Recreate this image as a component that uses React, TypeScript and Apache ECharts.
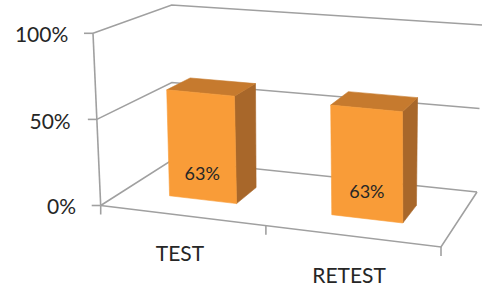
import React, { useEffect, useRef } from "react";
import * as echarts from "echarts";

// ---- data ----
const categories = ["TEST", "RETEST"];
const values = [0.63, 0.63];
const yTicks = [0, 0.5, 1];

// ---- layout / style ----
const FONT = "Lato, 'Open Sans', sans-serif";
const GRID_COLOR = "#a0a0a0";
const TEXT_COLOR = "#262626";
const FRONT = "#f99c38";
const TOP = "#c67a2e";
const SIDE = "#a8672a";

// projected corners of the 3-D box: f/b = front/back, b/t = bottom/top, l/r = left/right
const C = {
  fbl: [100.7, 205.5],
  fbr: [441, 247],
  bbl: [172, 160],
  bbr: [477, 192],
  ftl: [93, 33.3],
  ftr: [439, 63],
  btl: [171.7, 5],
  btr: [482, 25],
};
const U_PERSPECTIVE = 1.06;
const BAR_HALF = 0.21; // half bar width as fraction of the category band
const BAR_FRONT = 0.33;
const BAR_BACK = 0.66;
const LABEL_V = 0.16; // inside-base label height (axis units)

const pct = (v: number) => Math.round(v * 100) + "%";

function lerp(a: number[], b: number[], t: number) {
  return [a[0] + (b[0] - a[0]) * t, a[1] + (b[1] - a[1]) * t];
}
function project(u0: number, v: number, w: number) {
  const u = u0 / (u0 + U_PERSPECTIVE * (1 - u0));
  const fb = lerp(C.fbl, C.fbr, u);
  const bb = lerp(C.bbl, C.bbr, u);
  const ft = lerp(C.ftl, C.ftr, u);
  const bt = lerp(C.btl, C.btr, u);
  const b = lerp(fb, bb, w);
  const t = lerp(ft, bt, w);
  return lerp(b, t, v);
}

export default function App() {
  const ref = useRef<HTMLDivElement>(null);
  useEffect(() => {
    if (!ref.current) return;
    const chart = echarts.init(ref.current, null, { renderer: "svg" });
    const toUV = (cs: any, p: number[]) => [
      (p[0] - cs.x) / cs.width,
      (cs.y + cs.height - p[1]) / cs.height,
    ];
    const yPad: Record<string, number[]> = { y0: [0, 0, 0, 0], y1: [3, 5.3, 0, 0], y2: [1, 7.7, 0, 0] };
    const yRich: any = {};
    Object.keys(yPad).forEach((k) => {
      yRich[k] = { padding: yPad[k], fontSize: 21, fontFamily: FONT, color: TEXT_COLOR };
    });
    const xRich: any = {
      x0: { padding: [1, 11.6, 0, 0], fontSize: 21, fontFamily: FONT, color: TEXT_COLOR },
      x1: { padding: [23.5, 13.8, 0, 0], fontSize: 21, fontFamily: FONT, color: TEXT_COLOR },
    };

    chart.setOption({
      animation: false,
      backgroundColor: "#ffffff",
      grid: { left: 100.7, top: 33.3, width: 340.3, height: 172.2 },
      xAxis: {
        type: "category",
        data: categories,
        axisLine: { show: false },
        axisTick: { show: false },
        splitLine: { show: false },
        axisLabel: {
          interval: 0,
          margin: 35,
          formatter: (v: string, i: number) => `{x${i}|${v}}`,
          rich: xRich,
        },
      },
      yAxis: {
        type: "value",
        min: 0,
        max: 1,
        interval: 0.5,
        axisLine: { show: false },
        axisTick: { show: false },
        splitLine: { show: false },
        axisLabel: {
          margin: 24.7,
          formatter: (v: number) => `{y${yTicks.indexOf(v)}|${pct(v)}}`,
          rich: yRich,
        },
      },
      series: [
        {
          type: "custom",
          silent: true,
          z: 1,
          data: [[0, 0]],
          renderItem: (params: any, api: any) => {
            const cs = params.coordSys;
            const line = (pts: number[][]) => ({
              type: "polyline",
              shape: { points: pts },
              style: { stroke: GRID_COLOR, lineWidth: 1.6, fill: null },
            });
            const children: any[] = [];
            yTicks.forEach((t) => {
              const v = toUV(cs, api.coord([0, t]))[1];
              children.push(line([project(0, v, 0), project(0, v, 1), project(1, v, 1)]));
              const p = project(0, v, 0);
              children.push(line([[p[0] - 9, p[1]], p]));
            });
            children.push(line([project(0, 0, 0), project(0, 1, 0)]));
            children.push(line([project(0, 0, 0), project(1, 0, 0), project(1, 0, 1)]));
            const band = api.size([1, 0])[0];
            for (let k = 0; k <= categories.length; k++) {
              const px = api.coord([Math.min(k, categories.length - 1), 0])[0] + (k < categories.length ? -band / 2 : band / 2);
              const u = toUV(cs, [px, 0])[0];
              const p = project(u, 0, 0);
              children.push(line([p, [p[0], p[1] + 9]]));
            }
            return { type: "group", children };
          },
        },
        {
          type: "custom",
          z: 2,
          data: values.map((v, i) => [i, v]),
          encode: { x: 0, y: 1 },
          renderItem: (params: any, api: any) => {
            const cs = params.coordSys;
            const i = api.value(0);
            const h = api.value(1);
            const base = api.coord([i, 0]);
            const top = api.coord([i, h]);
            const band = api.size([1, 0])[0];
            const half = band * BAR_HALF;
            const u0 = toUV(cs, [base[0] - half, 0])[0];
            const u1 = toUV(cs, [base[0] + half, 0])[0];
            const uc = toUV(cs, base)[0];
            const v0 = toUV(cs, base)[1];
            const v1 = toUV(cs, top)[1];
            const vl = toUV(cs, api.coord([i, LABEL_V]))[1];
            const wf = BAR_FRONT;
            const wb = BAR_BACK;
            const poly = (pts: number[][], fill: string) => ({
              type: "polygon",
              shape: { points: pts },
              style: { fill, stroke: fill, lineWidth: 0.6 },
            });
            const lp = project(uc, vl, wf);
            return {
              type: "group",
              children: [
                poly([project(u1, v0, wf), project(u1, v0, wb), project(u1, v1, wb), project(u1, v1, wf)], SIDE),
                poly([project(u0, v1, wf), project(u1, v1, wf), project(u1, v1, wb), project(u0, v1, wb)], TOP),
                poly([project(u0, v0, wf), project(u1, v0, wf), project(u1, v1, wf), project(u0, v1, wf)], FRONT),
                {
                  type: "text",
                  style: {
                    text: pct(h),
                    x: lp[0],
                    y: lp[1],
                    align: "center",
                    verticalAlign: "middle",
                    fontSize: 18,
                    fontFamily: FONT,
                    fill: TEXT_COLOR,
                  },
                },
              ],
            };
          },
        },
      ],
    });
    return () => chart.dispose();
  }, []);
  return (
    <div
      ref={ref}
      style={{ position: "absolute", left: 0, top: 0, width: 483, height: 289 }}
    />
  );
}
